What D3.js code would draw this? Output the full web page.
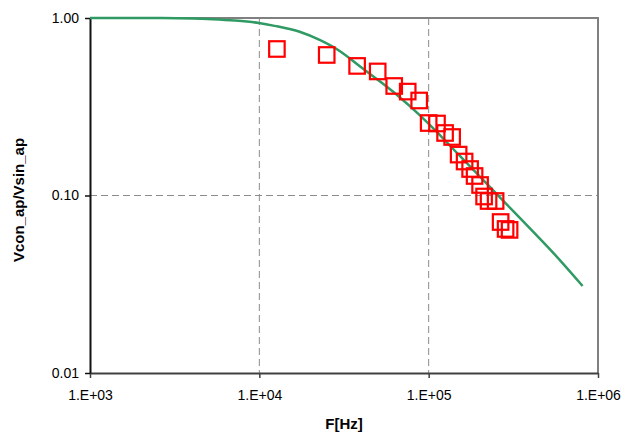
<!DOCTYPE html>
<html>
<head>
<meta charset="utf-8">
<script src="https://cdn.jsdelivr.net/npm/d3@7"></script>
<style>
  body { margin: 0; background: #fff; }
  text { font-family: "Liberation Sans", Arial, sans-serif; }
</style>
</head>
<body>
<svg id="chart" width="623" height="435"></svg>
<script>
// measured points (red squares)
var measF = [12700, 25000, 37800, 50000, 62600, 75200, 87900, 100000, 112000, 125000,
  137600, 150300, 163000, 175700, 186700, 201200, 212500, 225800, 248500, 266000, 284600, 300500];
var measV = [0.669, 0.619, 0.537, 0.500, 0.414, 0.385, 0.343, 0.256, 0.2545, 0.225,
  0.2136, 0.170, 0.1554, 0.141, 0.1288, 0.1146, 0.0987, 0.0931, 0.0931, 0.0709, 0.0648, 0.064];

// model curve (green line)
var curveF = [1000, 2260, 4060, 5320, 7160, 9930, 12300, 17300, 22700, 29800, 39200,
  51400, 67400, 88500, 108400, 138600, 182000, 262500, 411000, 539000, 811000];
var curveV = [1.0, 0.999, 0.994, 0.985, 0.968, 0.937, 0.903, 0.836, 0.752, 0.652, 0.535,
  0.440, 0.358, 0.284, 0.235, 0.184, 0.141, 0.098, 0.063, 0.048, 0.0309];

var xTicks = [1e3, 1e4, 1e5, 1e6];
var xTickLabels = ["1.E+03", "1.E+04", "1.E+05", "1.E+06"];
var yTicks = [0.01, 0.1, 1];
var yTickLabels = ["0.01", "0.10", "1.00"];

var svg = d3.select("#chart"),
  pLeft = 90, pRight = 598, pTop = 18, pBottom = 373;

var x = d3.scaleLog().domain([1e3, 1e6]).range([pLeft, pRight]);
var y = d3.scaleLog().domain([0.01, 1]).range([pBottom, pTop]);

// grid
svg.append("g").selectAll("line")
  .data(xTicks.slice(1, -1))
  .enter().append("line")
  .attr("x1", function(d) { return x(d); })
  .attr("x2", function(d) { return x(d); })
  .attr("y1", pTop).attr("y2", pBottom)
  .attr("stroke", "#8c8c8c").attr("stroke-width", 1)
  .attr("stroke-dasharray", "7,4");

svg.append("g").selectAll("line")
  .data(yTicks.slice(1, -1))
  .enter().append("line")
  .attr("y1", function(d) { return y(d); })
  .attr("y2", function(d) { return y(d); })
  .attr("x1", pLeft).attr("x2", pRight)
  .attr("stroke", "#8c8c8c").attr("stroke-width", 1)
  .attr("stroke-dasharray", "7,4");

// frame: top and right in grey
svg.append("path")
  .attr("d", "M" + pLeft + "," + pTop + "H" + pRight + "V" + pBottom)
  .attr("fill", "none").attr("stroke", "#808080").attr("stroke-width", 2);

// axes
var xAxis = svg.append("g")
  .attr("transform", "translate(0," + pBottom + ")")
  .call(d3.axisBottom(x).tickValues(xTicks)
    .tickFormat(function(d, i) { return xTickLabels[i]; })
    .tickSize(5).tickSizeOuter(0).tickPadding(12));
xAxis.select(".domain").attr("stroke", "#404040").attr("stroke-width", 2);
xAxis.selectAll(".tick line").attr("stroke", "#404040").attr("stroke-width", 1.5);
xAxis.selectAll("text").attr("font-size", 14).attr("fill", "#000")
  .style("font-family", "'Liberation Sans', Arial, sans-serif");

var yAxis = svg.append("g")
  .attr("transform", "translate(" + pLeft + ",0)")
  .call(d3.axisLeft(y).tickValues(yTicks)
    .tickFormat(function(d, i) { return yTickLabels[i]; })
    .tickSize(5).tickSizeOuter(0).tickPadding(6));
yAxis.select(".domain").attr("stroke", "#111").attr("stroke-width", 2);
yAxis.selectAll(".tick line").attr("stroke", "#111").attr("stroke-width", 1.5);
yAxis.selectAll("text").attr("font-size", 14).attr("fill", "#000")
  .style("font-family", "'Liberation Sans', Arial, sans-serif");

// curve
var line = d3.line()
  .x(function(d, i) { return x(curveF[i]); })
  .y(function(d, i) { return y(curveV[i]); })
  .curve(d3.curveMonotoneX);

svg.append("path")
  .attr("d", line(curveF))
  .attr("fill", "none")
  .attr("stroke", "#2f9a63")
  .attr("stroke-width", 2.5);

// squares
var s = 15.5;
svg.append("g").selectAll("rect")
  .data(measF)
  .enter().append("rect")
  .attr("x", function(d) { return x(d) - s / 2; })
  .attr("y", function(d, i) { return y(measV[i]) - s / 2; })
  .attr("width", s).attr("height", s)
  .attr("fill", "none")
  .attr("stroke", "#ff0000")
  .attr("stroke-width", 2.2);

// titles
svg.append("text")
  .attr("x", (pLeft + pRight) / 2).attr("y", 429)
  .attr("text-anchor", "middle")
  .attr("font-size", 15).attr("font-weight", "bold")
  .text("F[Hz]");

svg.append("text")
  .attr("transform", "translate(24,200) rotate(-90)")
  .attr("text-anchor", "middle")
  .attr("font-size", 15).attr("font-weight", "bold")
  .text("Vcon_ap/Vsin_ap");
</script>
</body>
</html>
